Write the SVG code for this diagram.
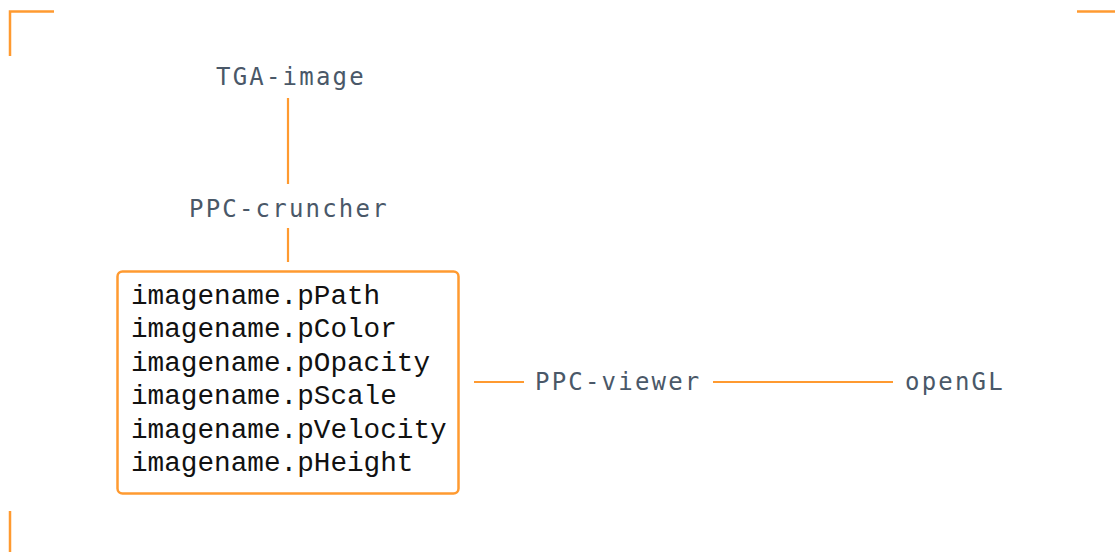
<svg xmlns="http://www.w3.org/2000/svg" width="1115" height="552" viewBox="0 0 1115 552">
  <style>
    .label { font-family: "DejaVu Sans Mono", monospace; font-size: 24px; letter-spacing: 2.2px; fill: #4a5868; }
    .code { font-family: "Courier New", "Nimbus Mono PS", "FreeMono", "Liberation Mono", monospace; font-size: 27.7px; fill: #111111; }
    .wire { stroke: #ff9a30; stroke-width: 2.2; fill: none; }
    .frame { stroke: #ff9a30; stroke-width: 2.5; fill: none; }
  </style>
  <rect width="1115" height="552" fill="#ffffff"/>

  <!-- corner frame marks -->
  <g id="frame-marks">
    <path class="frame" d="M10 56 V11.5 H54"/>
    <path class="frame" d="M1077 11.5 H1115"/>
    <path class="frame" d="M10 511 V552"/>
  </g>

  <!-- connectors -->
  <g id="connectors">
    <line class="wire" x1="288" y1="98" x2="288" y2="184"/>
    <line class="wire" x1="288" y1="228" x2="288" y2="262"/>
    <line class="wire" x1="474" y1="382" x2="524" y2="382"/>
    <line class="wire" x1="713" y1="382" x2="893" y2="382"/>
  </g>

  <g id="tga-image">
    <text class="label" x="216" y="85">TGA-image</text>
  </g>

  <g id="ppc-cruncher">
    <text class="label" x="189" y="217">PPC-cruncher</text>
  </g>

  <g id="imagename-files">
    <rect x="117.5" y="271.5" width="341" height="222" rx="5" class="frame" stroke-width="2.2"/>
    <text class="code" x="131" y="303.5">imagename.pPath</text>
    <text class="code" x="131" y="337">imagename.pColor</text>
    <text class="code" x="131" y="370.5">imagename.pOpacity</text>
    <text class="code" x="131" y="404">imagename.pScale</text>
    <text class="code" x="131" y="437.5">imagename.pVelocity</text>
    <text class="code" x="131" y="471">imagename.pHeight</text>
  </g>

  <g id="ppc-viewer">
    <text class="label" x="535" y="389.5">PPC-viewer</text>
  </g>

  <g id="opengl">
    <text class="label" x="905" y="389.5">openGL</text>
  </g>
</svg>
